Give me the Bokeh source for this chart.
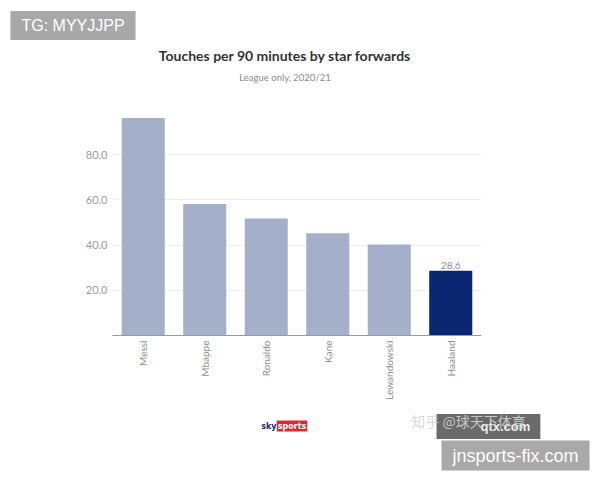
from math import pi
from bokeh.plotting import figure
from bokeh.models import ColumnDataSource, Range1d, FixedTicker, Label, NumeralTickFormatter
from bokeh.core.properties import value
from bokeh.embed import file_html
from bokeh.resources import INLINE

players = ["Messi", "Mbappe", "Ronaldo", "Kane", "Lewandowski", "Haaland"]
touches = [96.2, 58.2, 51.8, 45.2, 40.3, 28.6]
bar_colors = ["#a4b0ca", "#a4b0ca", "#a4b0ca", "#a4b0ca", "#a4b0ca", "#0b2670"]
y_ticks = [20, 40, 60, 80]

title_text = "Touches per 90 minutes by star forwards"
subtitle_text = "League only, 2020/21"

FONT = "Lato"
W, H = 600, 480
FL, FR, FT, FB = 112, 481, 109, 335   # frame edges in page pixels

p = figure(x_range=players, y_range=Range1d(0, 100), width=W, height=H,
           output_backend="svg", toolbar_location=None,
           min_border_left=FL, min_border_right=W - FR, min_border_top=FT, min_border_bottom=H - FB)
p.x_range.range_padding = 0
p.outline_line_color = None

src = ColumnDataSource(dict(x=players, top=touches, color=bar_colors))
p.vbar(x="x", top="top", width=0.7, fill_color="color", line_color=None, source=src)

hsrc = ColumnDataSource(dict(x=[players[-1]], y=[touches[-1]], t=[f"{touches[-1]:.1f}"]))
p.text(x="x", y="y", text="t", source=hsrc, text_align="center", text_baseline="bottom",
       y_offset=-2, text_font=value(FONT), text_font_size="10px", text_color="#8c8c8c")

p.xgrid.grid_line_color = None
p.ygrid.grid_line_color = "#ececec"
p.ygrid.ticker = FixedTicker(ticks=y_ticks)

yax = p.yaxis[0]
yax.ticker = FixedTicker(ticks=y_ticks)
yax.formatter = NumeralTickFormatter(format="0.0")
yax.axis_line_color = None
yax.major_tick_line_color = None
yax.minor_tick_line_color = None
yax.major_tick_out = 0
yax.major_tick_in = 0
yax.minor_tick_out = 0
yax.major_label_standoff = 5
yax.major_label_text_font = FONT
yax.major_label_text_font_size = "11px"
yax.major_label_text_color = "#9a9a9a"

xax = p.xaxis[0]
xax.axis_line_color = "#9a9a9a"
xax.major_tick_line_color = None
xax.minor_tick_line_color = None
xax.major_tick_out = 0
xax.major_tick_in = 0
xax.minor_tick_out = 0
xax.major_label_orientation = pi / 2
xax.major_label_standoff = 5
xax.major_label_text_font = FONT
xax.major_label_text_font_size = "10px"
xax.major_label_text_color = "#8c8c8c"

# page pixel -> data coordinates (the frame's own scales place the texts)
XS = (FR - FL) / len(players)
YS = (FB - FT) / 100.0

def dx(px):
    return (px - FL) / XS

def dy(py):
    return (FB - py) / YS

def lab(px, py, text, **kw):
    base = dict(text_align="center", text_baseline="middle")
    base.update(kw)
    return Label(x=dx(px), y=dy(py), text=text, **base)

# header texts  (padding tuples: (horizontal, vertical) / (left, right, top, bottom))
p.add_layout(lab(284.5, 55, title_text, text_font=FONT, text_font_size="14px",
                 text_font_style="bold", text_color="#333333"), "above")
p.add_layout(lab(284.5, 77, subtitle_text, text_font=FONT, text_font_size="9.5px",
                 text_color="#8a8a8a"), "above")
p.add_layout(lab(72.5, 25, "TG: MYYJJPP", text_font="Liberation Sans", text_font_size="16px",
                 text_color="white", background_fill_color="#a8a8a8", padding=(11, 6)), "above")
p.add_layout(lab(515, 455, "jnsports-fix.com", text_font="Liberation Sans", text_font_size="18px",
                 text_color="white", background_fill_color="#a8a8a8", padding=(11, 5)), "above")

# sky sports logo
p.add_layout(lab(276, 425.5, "sky", text_align="right", text_font="DejaVu Sans", text_font_size="8px",
                 text_font_style="bold", text_color="#1d2c6b"), "right")
p.add_layout(lab(291.5, 425.5, "sports", text_font="DejaVu Sans", text_font_size="8px",
                 text_font_style="bold", text_color="white",
                 background_fill_color="#e0262f", padding=1), "right")

# zhihu / qtx watermark
p.add_layout(lab(436, 426, "qtx.com", text_align="left", text_font="Liberation Sans",
                 text_font_size="13px", text_font_style="bold", text_color="#eeeeee",
                 background_fill_color="#6a6a6a", padding=(44, 10, 5, 5)), "below")
p.add_layout(lab(468, 420, "知乎 @球天下体育", text_font="Noto Sans CJK SC",
                 text_font_size="14px", text_color="#d2d2d2", text_alpha=0.9), "below")

open("out.html", "w").write(file_html(p, INLINE))
